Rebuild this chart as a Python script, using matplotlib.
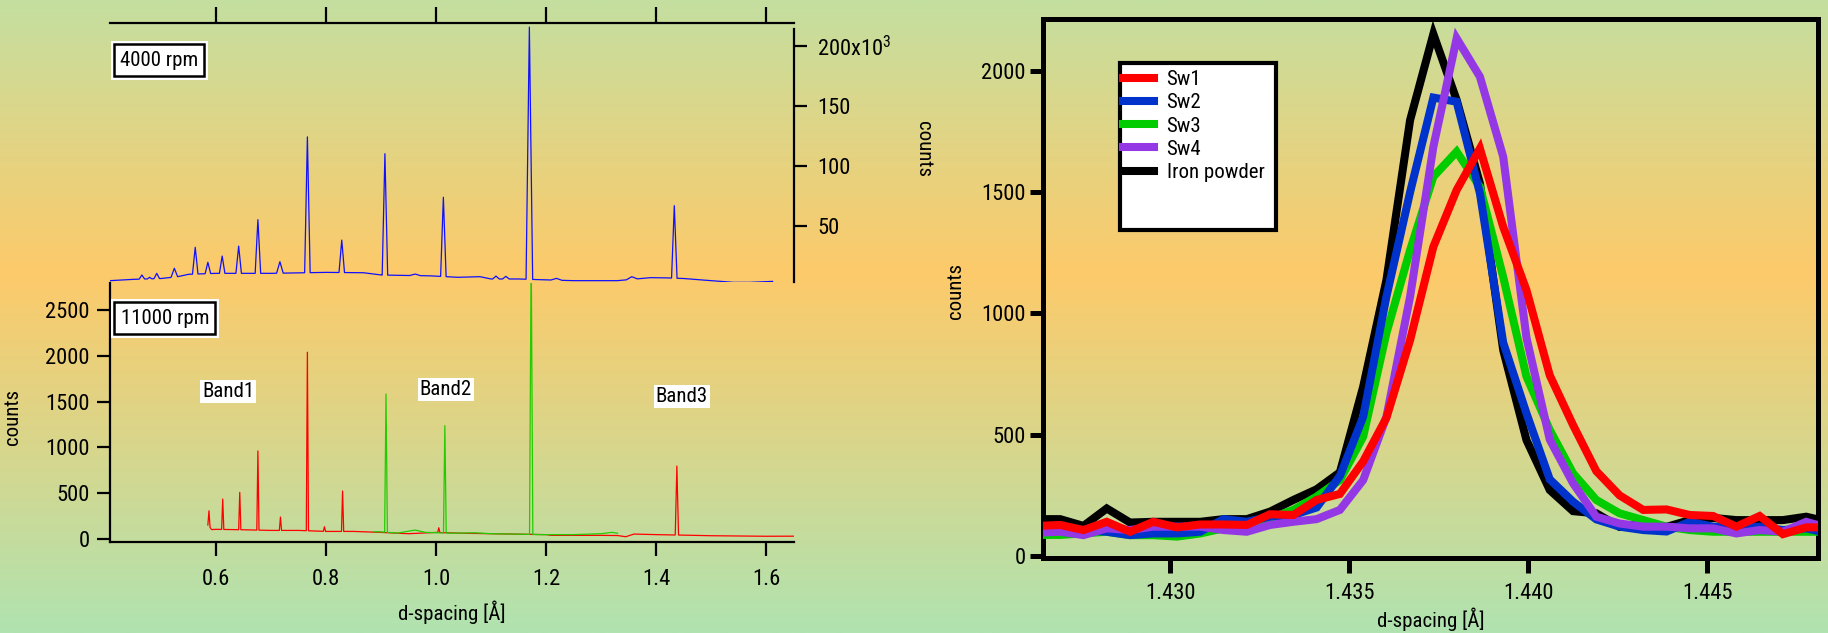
import numpy as np
import matplotlib
matplotlib.use("Agg")
import matplotlib.pyplot as plt
from matplotlib import font_manager
from matplotlib.patches import Rectangle
from matplotlib.colors import LinearSegmentedColormap
import matplotlib.patheffects as pe

# prefer a condensed sans, fall back to Liberation Sans
_names = {f.name for f in font_manager.fontManager.ttflist}
_fam = 'Liberation Sans'
for cand in ['Liberation Sans Narrow', 'Arial Narrow', 'Roboto Condensed',
             'Open Sans Condensed', 'DejaVu Sans Condensed']:
    if cand in _names:
        _fam = cand
        break
plt.rcParams['font.family'] = [_fam, 'DejaVu Sans']
plt.rcParams['mathtext.fontset'] = 'custom'
plt.rcParams['mathtext.rm'] = _fam

# ---------------- 4000 rpm (blue) : baseline + peaks, d [A] / counts
blue_base_d = [0.407, 0.450, 0.500, 0.530, 0.550, 0.600, 0.700, 0.800, 0.868,
               0.901, 0.950, 0.990, 1.040, 1.080, 1.100, 1.150, 1.190, 1.250,
               1.330, 1.390, 1.420, 1.450, 1.486, 1.541, 1.571, 1.612]
blue_base_c = [4.2e3, 5.3e3, 6.0e3, 7.5e3, 9.5e3, 10.3e3, 10.3e3, 11.1e3, 10.8e3,
               8.9e3, 8.5e3, 8.2e3, 7.0e3, 7.5e3, 5.6e3, 5.6e3, 5.0e3, 4.2e3,
               4.2e3, 6.7e3, 6.5e3, 6.0e3, 4.7e3, 2.8e3, 2.8e3, 3.6e3]
blue_peak_d = [0.465, 0.479, 0.492, 0.524, 0.562, 0.585, 0.611, 0.641, 0.676,
               0.716, 0.766, 0.8285, 0.907, 0.962, 1.0133, 1.109, 1.127, 1.1697,
               1.219, 1.356, 1.4333]
blue_peak_c = [8.9e3, 7.0e3, 10.3e3, 14.5e3, 32e3, 19.5e3, 24.7e3, 33e3, 55e3,
               20e3, 124e3, 38e3, 110e3, 9.7e3, 73.7e3, 8.0e3, 7.8e3, 215.5e3,
               6.1e3, 7.5e3, 66.7e3]
blue_peak_w = [0.005, 0.004, 0.005, 0.006, 0.005, 0.005, 0.005, 0.005, 0.005,
               0.006, 0.005, 0.005, 0.005, 0.010, 0.005, 0.006, 0.006, 0.006,
               0.010, 0.010, 0.005]

# ---------------- 11000 rpm, red trace
red_base_d = [0.585, 0.592, 0.600, 0.650, 0.700, 0.750, 0.800, 0.850, 0.900,
              0.950, 1.000, 1.050, 1.100, 1.150, 1.200, 1.210, 1.300, 1.330,
              1.345, 1.360, 1.400, 1.460, 1.500, 1.550, 1.600, 1.651]
red_base_c = [150, 100, 103, 98, 91, 91, 80, 80, 69,
              55, 69, 60, 55, 50, 45, 37, 37, 35,
              22, 51, 45, 38, 33, 30, 27, 28]
red_peak_d = [0.587, 0.612, 0.643, 0.676, 0.717, 0.766, 0.797, 0.830, 1.005, 1.438]
red_peak_c = [306, 434, 507, 960, 237, 2040, 131, 522, 120, 795]
red_peak_w = [0.002, 0.002, 0.002, 0.002, 0.002, 0.002, 0.002, 0.002, 0.002, 0.003]

# ---------------- 11000 rpm, green trace
green_base_d = [0.886, 0.900, 0.930, 0.962, 0.980, 1.030, 1.070, 1.100, 1.150,
                1.190, 1.250, 1.300, 1.320, 1.330]
green_base_c = [77, 75, 62, 95, 70, 60, 65, 55, 50,
                45, 45, 55, 70, 60]
green_peak_d = [0.909, 1.016, 1.173]
green_peak_c = [1583, 1236, 3200]
green_peak_w = [0.0025, 0.0025, 0.003]

# ---------------- zoom on the 1.437 A reflection
d_fine = [1.42628, 1.42693, 1.42758, 1.42823, 1.42888, 1.42953, 1.43019, 1.43084,
          1.43149, 1.43214, 1.43279, 1.43344, 1.43409, 1.43474, 1.43539, 1.43604,
          1.43670, 1.43735, 1.43800, 1.43865, 1.43930, 1.43995, 1.44060, 1.44125,
          1.44190, 1.44255, 1.44321, 1.44386, 1.44451, 1.44516, 1.44581, 1.44646,
          1.44711, 1.44776, 1.44841]
sw1 = [124, 128, 107, 141, 100, 141, 118, 130, 130, 128, 172, 169, 231, 256, 390,
       570, 890, 1275, 1509, 1680, 1357, 1096, 745, 540, 350, 250, 190, 192, 169,
       165, 121, 165, 90, 118, 118]
sw2 = [121, 115, 107, 100, 86, 93, 93, 100, 152, 141, 162, 169, 200, 330, 574,
       1070, 1500, 1890, 1873, 1495, 880, 588, 316, 224, 151, 121, 107, 101, 141,
       121, 114, 121, 107, 114, 93]
sw3 = [87, 87, 93, 100, 86, 86, 80, 93, 114, 124, 155, 190, 245, 313, 492,
       920, 1261, 1564, 1667, 1522, 1150, 740, 520, 341, 231, 176, 148, 121, 107,
       100, 100, 100, 100, 100, 100]
sw4 = [96, 100, 86, 114, 107, 121, 121, 121, 107, 100, 128, 141, 152, 190, 313,
       574, 1069, 1687, 2134, 1976, 1646, 900, 480, 300, 162, 134, 121, 121, 114,
       114, 93, 107, 100, 141, 114]
iron = [152, 152, 124, 196, 138, 141, 141, 141, 152, 152, 183, 231, 275, 345, 698,
        1138, 1797, 2152, 1880, 1536, 849, 478, 272, 185, 176, 120, 135, 120, 148,
        157, 148, 148, 148, 162, 140]

series_labels = ['Sw1', 'Sw2', 'Sw3', 'Sw4', 'Iron powder']
series_colors = ['#ff0000', '#0033cc', '#00cc00', '#9438e6', '#000000']


def trace(base_d, base_c, pk_d, pk_c, pk_w):
    """baseline points plus a triangle for every reflection"""
    bd = np.asarray(base_d, float)
    bc = np.asarray(base_c, float)
    keep = np.ones(len(bd), bool)
    xs, ys = [], []
    for d, c, w in zip(pk_d, pk_c, pk_w):
        keep &= np.abs(bd - d) > w
        xs += [d - w, d, d + w]
        ys += [np.interp(d - w, bd, bc), c, np.interp(d + w, bd, bc)]
    xs = np.concatenate([bd[keep], xs])
    ys = np.concatenate([bc[keep], ys])
    o = np.argsort(xs)
    return xs[o], ys[o]


W, H = 1828, 633
fig = plt.figure(figsize=(W / 100, H / 100), dpi=100)

# background gradient
bg = fig.add_axes([0, 0, 1, 1], zorder=-10)
cmap = LinearSegmentedColormap.from_list(
    'bg', [(0.0, (196/255, 223/255, 160/255)),
           (0.43, (253/255, 202/255, 106/255)),
           (1.0, (176/255, 227/255, 176/255))])
bg.imshow(np.linspace(0, 1, 256).reshape(-1, 1), cmap=cmap, aspect='auto',
          extent=[0, 1, 0, 1], origin='upper')
bg.set_axis_off()


def px_axes(x0, y0, x1, y1):
    return fig.add_axes([x0 / W, 1 - y1 / H, (x1 - x0) / W, (y1 - y0) / H])


FS = 15 if _fam != 'Liberation Sans' else 14.5   # annotations
TS = FS * 1.08                                    # tick labels
xlim_l = (0.407, 1.651)

# ---------- top left: 4000 rpm
ax1 = px_axes(110, 23, 794, 282)
ax1.set_facecolor('none')
bx, by = trace(blue_base_d, blue_base_c, blue_peak_d, blue_peak_c, blue_peak_w)
ax1.plot(bx, by, color='#1010ff', lw=0.9)
ax1.set_xlim(*xlim_l)
ax1.set_ylim(3.08e3, 218.9e3)
for s in ['left', 'bottom']:
    ax1.spines[s].set_visible(False)
for s in ['top', 'right']:
    ax1.spines[s].set_linewidth(1.6)
ax1.spines['right'].set_bounds(3.1e3, 214e3)
ax1.xaxis.tick_top()
ax1.set_xticks([0.6, 0.8, 1.0, 1.2, 1.4, 1.6])
ax1.tick_params(axis='x', direction='out', length=11.5, width=1.6, labeltop=False)
ax1.yaxis.tick_right()
ax1.set_yticks([50e3, 100e3, 150e3, 200e3])
ax1.set_yticklabels(['50', '100', '150', '200x10$^3$'])
ax1.tick_params(axis='y', direction='out', length=9.5, width=1.6, pad=7, labelsize=TS)
ax1.text(1.19, 0.5135, 'counts', rotation=270, ha='center', va='center',
         fontsize=FS, transform=ax1.transAxes)
t = ax1.text(0.0716, 0.857, '4000 rpm', ha='center', va='center', fontsize=FS,
             transform=ax1.transAxes,
             bbox=dict(boxstyle='square,pad=0.3', fc='white', ec='black', lw=1.8))
t.get_bbox_patch().set_path_effects([pe.withStroke(linewidth=5, foreground='white')])

# ---------- bottom left: 11000 rpm
ax2 = px_axes(110, 283, 794, 542.3)
ax2.set_facecolor('none')
rx, ry = trace(red_base_d, red_base_c, red_peak_d, red_peak_c, red_peak_w)
gx, gy = trace(green_base_d, green_base_c, green_peak_d, green_peak_c, green_peak_w)
ax2.plot(rx, ry, color='#ff0000', lw=0.9)
ax2.plot(gx, gy, color='#22cc00', lw=0.9)
ax2.set_xlim(*xlim_l)
ax2.set_ylim(-39, 2797)
for s in ['top', 'right']:
    ax2.spines[s].set_visible(False)
for s in ['left', 'bottom']:
    ax2.spines[s].set_linewidth(1.6)
ax2.set_xticks([0.6, 0.8, 1.0, 1.2, 1.4, 1.6])
ax2.set_xticklabels(['0.6', '0.8', '1.0', '1.2', '1.4', '1.6'])
ax2.set_yticks([0, 500, 1000, 1500, 2000, 2500])
ax2.tick_params(axis='x', direction='out', length=10, width=1.6, pad=9, labelsize=TS)
ax2.tick_params(axis='y', direction='out', length=9.5, width=1.6, pad=5, labelsize=TS)
ax2.text(0.5, -0.27, 'd-spacing [Å]', ha='center', va='center', fontsize=FS,
         transform=ax2.transAxes)
ax2.text(-0.143, 0.483, 'counts', rotation=90, ha='center', va='center',
         fontsize=FS, transform=ax2.transAxes)
t = ax2.text(0.0804, 0.865, '11000 rpm', ha='center', va='center', fontsize=FS,
             transform=ax2.transAxes,
             bbox=dict(boxstyle='square,pad=0.3', fc='white', ec='black', lw=1.8))
t.get_bbox_patch().set_path_effects([pe.withStroke(linewidth=5, foreground='white')])
for lbl, x, y in [('Band1', 0.1725, 0.580), ('Band2', 0.491, 0.588), ('Band3', 0.836, 0.561)]:
    ax2.text(x, y, lbl, ha='center', va='center', fontsize=FS, transform=ax2.transAxes,
             bbox=dict(boxstyle='square,pad=0.1', fc='white', ec='none'))

# ---------- right: the 1.437 A line
ax3 = px_axes(1043, 19, 1818, 557.7)
ax3.set_facecolor('none')
ys = [sw1, sw2, sw3, sw4, iron]
zorders = [6, 4, 3, 5, 2]
for y, lab, c, z in zip(ys, series_labels, series_colors, zorders):
    ax3.plot(d_fine, y, color=c, lw=5.8, label=lab, zorder=z, solid_joinstyle='miter')
ax3.set_xlim(1.42645, 1.44809)
ax3.set_ylim(-7, 2214)
for s in ax3.spines.values():
    s.set_linewidth(3.6)
ax3.set_xticks([1.430, 1.435, 1.440, 1.445])
ax3.set_xticklabels(['1.430', '1.435', '1.440', '1.445'])
ax3.set_yticks([0, 500, 1000, 1500, 2000])
ax3.tick_params(axis='x', direction='out', length=11, width=3.6, pad=7, labelsize=TS)
ax3.tick_params(axis='y', direction='out', length=9.5, width=3.6, pad=3, labelsize=TS)
ax3.text(0.5, -0.115, 'd-spacing [Å]', ha='center', va='center', fontsize=FS,
         transform=ax3.transAxes)
ax3.text(-0.1123, 0.495, 'counts', rotation=90, ha='center', va='center',
         fontsize=FS, transform=ax3.transAxes)
ax3.add_patch(Rectangle((0.0994, 0.6083), 0.2012, 0.31, transform=ax3.transAxes,
                        fc='white', ec='black', lw=3.0, zorder=8))
leg = ax3.legend(loc='upper left', bbox_to_anchor=(0.103, 0.905), frameon=False,
                 fontsize=FS, handlelength=1.5, handletextpad=0.6, labelspacing=0.2,
                 borderaxespad=0, borderpad=0)
leg.set_zorder(9)

fig.savefig('out.png', dpi=100)
